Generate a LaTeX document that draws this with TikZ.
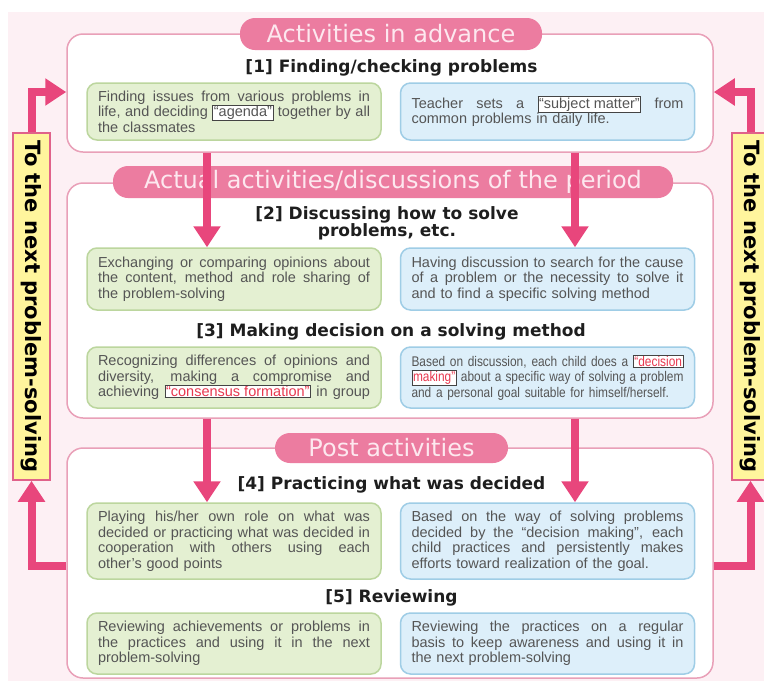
\documentclass[tikz,border=0pt]{standalone}
\usepackage{fontspec}
\usepackage{graphicx}
\setmainfont{DejaVu Sans}
\newfontfamily\bodyfont{Liberation Sans}
\newfontfamily\condfont[FakeStretch=0.85]{Liberation Sans}
\usetikzlibrary{arrows.meta}
\definecolor{bgpink}{HTML}{FDF0F4}
\definecolor{panelline}{HTML}{E9A0B8}
\definecolor{pillfill}{HTML}{EC7CA0}
\definecolor{pilltext}{HTML}{FDE8EF}
\definecolor{headtext}{HTML}{1E1E1E}
\definecolor{bodytext}{HTML}{555555}
\definecolor{gfill}{HTML}{E4F0D2}
\definecolor{gline}{HTML}{BCD69E}
\definecolor{bfill}{HTML}{DDEFFA}
\definecolor{bline}{HTML}{9FCDE6}
\definecolor{yfill}{HTML}{FFF59D}
\definecolor{yline}{HTML}{E0628A}
\definecolor{arrowpink}{HTML}{E8467C}
\definecolor{kwline}{HTML}{444444}
\definecolor{kwred}{HTML}{E8384F}
\newcommand\kwbox[2][bodytext]{{\setlength{\fboxsep}{0.6pt}\setlength{\fboxrule}{0.9pt}\fcolorbox{kwline}{white}{\textcolor{#1}{#2}}}}
\newcommand\fullline[1]{\makebox[272pt][s]{\spaceskip=0.278em plus 1fil\relax #1}}
\tikzset{
  panel/.style={draw=panelline, line width=1.5pt, fill=white, rounded corners=16pt, minimum width=646pt, inner sep=0pt},
  pill/.style={fill=pillfill, rounded corners=15pt, text=pilltext, font=\fontsize{24}{26}\selectfont, inner sep=0pt, minimum height=32pt},
  header/.style={text=headtext, font=\bfseries\fontsize{17}{17}\selectfont, align=center, inner sep=0pt},
  gbox/.style={draw=gline, fill=gfill, line width=1.5pt, rounded corners=10pt, text width=272pt, inner xsep=11pt, inner ysep=0pt, align=left, text=bodytext, font=\bodyfont\fontsize{14.5}{15.5}\selectfont},
  bbox/.style={gbox, draw=bline, fill=bfill},
  ybox/.style={draw=yline, fill=yfill, line width=1.5pt, minimum width=37pt, minimum height=347pt, inner sep=0pt},
  bigarrow/.style={draw=arrowpink, line width=8pt, line join=miter, -{Triangle[width=26pt,length=21pt]}},
}
\begin{document}
\begin{tikzpicture}[x=1pt,y=-1pt]
\useasboundingbox (0,0) rectangle (764,681);
\clip (0,0) rectangle (764,681);
\fill[white] (0,0) rectangle (764,681);
\fill[bgpink] (8,12) rectangle (764,681);

% panels
\node[panel, minimum height=118pt] (panel1) at (390,93) {};
\node[panel, minimum height=235pt] (panel2) at (390,300.5) {};
\node[panel, minimum height=230pt] (panel3) at (390,563) {};

% titles
\node[pill, minimum width=302pt] (pill1) at (391,34) {Activities in advance};
\node[pill, minimum width=560pt] (pill2) at (393,182) {Actual activities/discussions of the period};
\node[pill, minimum width=233pt, minimum height=30pt] (pill3) at (391.5,448) {Post activities};

% headers
\node[header] (h1) at (391.5,68) {[1] Finding/checking problems};
\node[header] (h2) at (387,223) {[2] Discussing how to solve\\problems, etc.};
\node[header] (h3) at (391,332) {[3] Making decision on a solving method};
\node[header] (h4) at (391.5,485) {[4] Practicing what was decided};
\node[header] (h5) at (391.5,598) {[5] Reviewing};

% boxes
\node[gbox, minimum height=57pt] (g1) at (234,111.5) {\fullline{Finding issues from various problems in}\\\fullline{life, and deciding \kwbox{“agenda”} together by all}\\the classmates};
\node[bbox, minimum height=57pt] (b1) at (547.5,111.5) {\fullline{Teacher sets a \kwbox{“subject matter”} from}\\common problems in daily life.};

\node[gbox, minimum height=62pt] (g2) at (234,279) {\fullline{Exchanging or comparing opinions about}\\\fullline{the content, method and role sharing of}\\the problem-solving};
\node[bbox, minimum height=62pt] (b2) at (547.5,279) {\fullline{Having discussion to search for the cause}\\\fullline{of a problem or the necessity to solve it}\\and to find a specific solving method};

\node[gbox, minimum height=61pt] (g3) at (234,377.5) {\fullline{Recognizing differences of opinions and}\\\fullline{diversity, making a compromise and}\\\fullline{achieving \kwbox[kwred]{“consensus formation”} in group}};
\node[bbox, minimum height=61pt, font=\condfont\fontsize{14}{15.5}\selectfont] (b3) at (547.5,377.5) {\fullline{Based on discussion, each child does a \kwbox[kwred]{“decision}}\\\fullline{\kwbox[kwred]{making”} about a specific way of solving a problem}\\and a personal goal suitable for himself/herself.};

\node[gbox, minimum height=76pt] (g4) at (234,541) {\fullline{Playing his/her own role on what was}\\\fullline{decided or practicing what was decided in}\\\fullline{cooperation with others using each}\\other’s good points};
\node[bbox, minimum height=76pt] (b4) at (547.5,541) {\fullline{Based on the way of solving problems}\\\fullline{decided by the “decision making”, each}\\\fullline{child practices and persistently makes}\\efforts toward realization of the goal.};

\node[gbox, minimum height=61pt] (g5) at (234,643.5) {\fullline{Reviewing achievements or problems in}\\\fullline{the practices and using it in the next}\\problem-solving};
\node[bbox, minimum height=61pt] (b5) at (547.5,643.5) {\fullline{Reviewing the practices on a regular}\\\fullline{basis to keep awareness and using it in}\\the next problem-solving};

% side labels
\node[ybox] (yL) at (31.5,306.5) {\rotatebox{-90}{\bfseries\fontsize{21}{21}\selectfont To the next problem-solving}};
\node[ybox] (yR) at (750.5,306.5) {\rotatebox{-90}{\bfseries\fontsize{21}{21}\selectfont To the next problem-solving}};

% down arrows
\coordinate (AL) at (207,0);
\coordinate (AR) at (575,0);
\draw[bigarrow] (panel1.south -| AL) -- (g2.north -| AL);
\draw[bigarrow] (panel1.south -| AR) -- (b2.north -| AR);
\draw[bigarrow] (panel2.south -| AL) -- (g4.north -| AL);
\draw[bigarrow] (panel2.south -| AR) -- (b4.north -| AR);

% loop arrows
\coordinate (LoopY) at (0,566);
\coordinate (TopY) at (0,92);
\draw[bigarrow] (panel3.west |- LoopY) -| (yL.south);
\draw[bigarrow] (yL.north) |- (panel1.west |- TopY);
\draw[bigarrow] (panel3.east |- LoopY) -| (yR.south);
\draw[bigarrow] (yR.north) |- (panel1.east |- TopY);
\end{tikzpicture}
\end{document}
